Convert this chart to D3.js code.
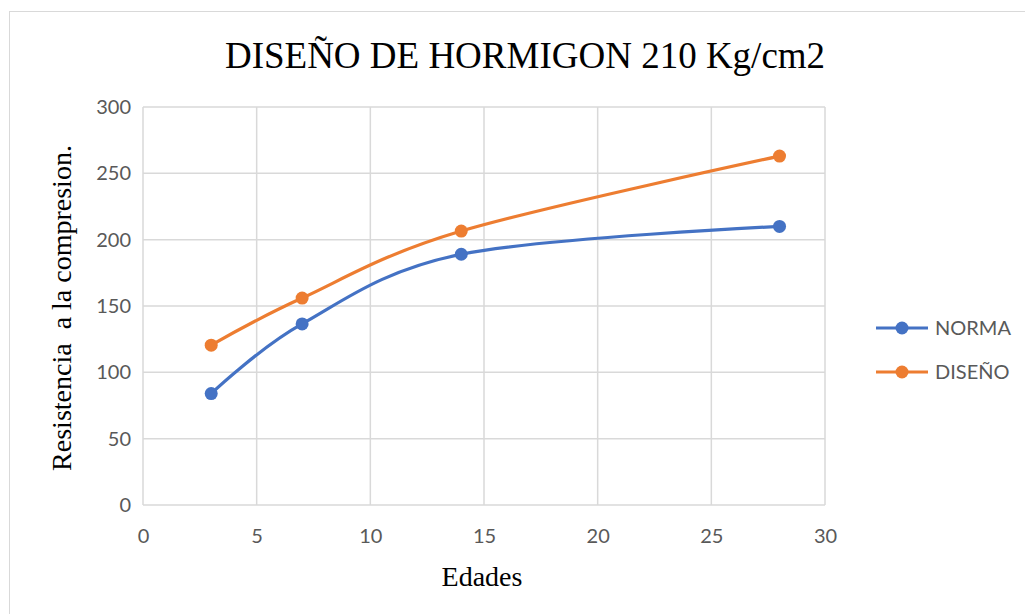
<!DOCTYPE html>
<html>
<head>
<meta charset="utf-8">
<script src="https://cdn.jsdelivr.net/npm/d3@7"></script>
<style>
  body { margin: 0; background: #fff; }
  svg { display: block; }
</style>
</head>
<body>
<div id="chart"></div>
<script>
// data
const edades = [3, 7, 14, 28]
const norma = [84, 136.5, 189, 210]
const diseno = [120.5, 156, 206.5, 263]
const seriesNames = ['NORMA', 'DISEÑO']
const xTicks = [0, 5, 10, 15, 20, 25, 30]
const yTicks = [0, 50, 100, 150, 200, 250, 300]

const w = 1025, h = 614
const colorArr = ['#4472c4', '#ed7d31']
const tickFont = 'Lato, "Open Sans", sans-serif'
const serif = '"Liberation Serif", "Times New Roman", serif'

let svg = d3.select('#chart').append('svg')
  .attr('width', w).attr('height', h)

// chart border
svg.append('rect')
  .attr('x', 9.5).attr('y', 11.5)
  .attr('width', w).attr('height', h)
  .attr('fill', 'none').attr('stroke', '#d9d9d9').attr('stroke-width', 1)

let x = d3.scaleLinear().domain([0, 30]).range([143, 825])
let y = d3.scaleLinear().domain([0, 300]).range([505, 107])

// gridlines
let grid = svg.append('g')
grid.selectAll('line.gy').data(yTicks).enter().append('line')
  .attr('x1', x(0)).attr('x2', x(30))
  .attr('y1', d => y(d)).attr('y2', d => y(d))
  .attr('stroke', '#d9d9d9').attr('stroke-width', 1.5)
grid.selectAll('line.gx').data(xTicks).enter().append('line')
  .attr('x1', d => x(d)).attr('x2', d => x(d))
  .attr('y1', y(0)).attr('y2', y(300))
  .attr('stroke', '#d9d9d9').attr('stroke-width', 1.5)

// axes
let xAxis = svg.append('g')
  .attr('transform', `translate(0,${y(0) + 14})`)
  .call(d3.axisBottom(x).tickValues(xTicks).tickSize(0).tickPadding(10))
let yAxis = svg.append('g')
  .attr('transform', `translate(${x(0) - 12},0)`)
  .call(d3.axisLeft(y).tickValues(yTicks).tickSize(0).tickPadding(0))
;[xAxis, yAxis].forEach(a => {
  a.select('.domain').remove()
  a.selectAll('text')
    .style('fill', '#595959').style('font-size', '20px')
    .style('font-family', tickFont)
})

// lines
let line = d3.line()
  .x(d => x(d[0])).y(d => y(d[1]))
  .curve(d3.curveCardinal.tension(0))

;[norma, diseno].forEach((vals, i) => {
  let pts = edades.map((e, j) => [e, vals[j]])
  svg.append('path')
    .datum(pts)
    .attr('d', line)
    .attr('fill', 'none')
    .attr('stroke', colorArr[i])
    .attr('stroke-width', 3.2)
  svg.selectAll(null).data(pts).enter().append('circle')
    .attr('cx', d => x(d[0])).attr('cy', d => y(d[1]))
    .attr('r', 6.5)
    .attr('fill', colorArr[i])
})

// title
svg.append('text')
  .text('DISEÑO DE HORMIGON 210 Kg/cm2')
  .attr('x', 525).attr('y', 68)
  .attr('text-anchor', 'middle')
  .style('font-family', serif)
  .style('font-size', '37px').style('fill', '#000')

// axis titles
svg.append('text')
  .text('Edades')
  .attr('x', 482).attr('y', 586)
  .attr('text-anchor', 'middle')
  .style('font-family', serif)
  .style('font-size', '28px').style('fill', '#000')

svg.append('text')
  .text('Resistencia  a la compresion.')
  .attr('transform', `translate(71,308) rotate(-90)`)
  .attr('text-anchor', 'middle')
  .attr('xml:space', 'preserve')
  .style('white-space', 'pre')
  .style('font-family', serif)
  .style('font-size', '28px').style('fill', '#000')

// legend
let legend = svg.append('g')
seriesNames.forEach((name, i) => {
  let ly = 328 + i * 44
  let g = legend.append('g')
  g.append('line')
    .attr('x1', 876).attr('x2', 928)
    .attr('y1', ly).attr('y2', ly)
    .attr('stroke', colorArr[i]).attr('stroke-width', 3.2)
  g.append('circle')
    .attr('cx', 902).attr('cy', ly).attr('r', 6.5)
    .attr('fill', colorArr[i])
  g.append('text')
    .text(name)
    .attr('x', 935).attr('y', ly + 7)
    .style('fill', '#595959').style('font-size', '20px')
    .style('font-family', tickFont)
})
</script>
</body>
</html>
